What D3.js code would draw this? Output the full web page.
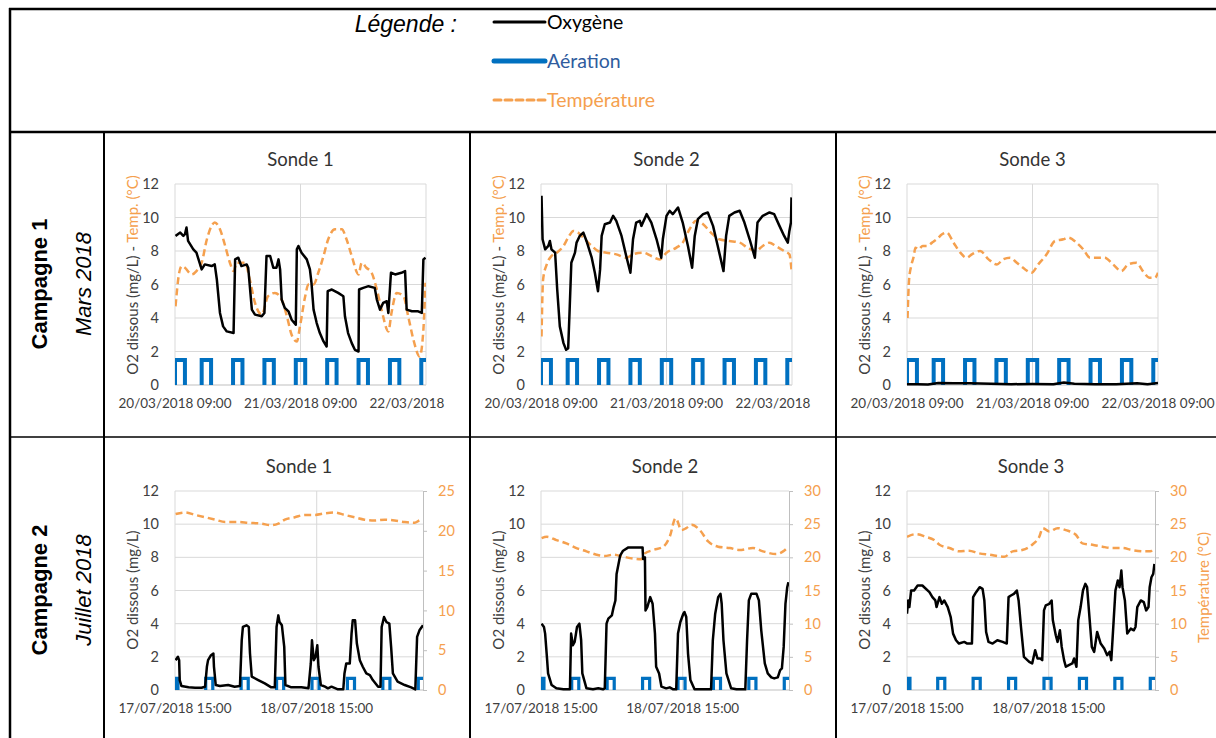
<!DOCTYPE html>
<html>
<head>
<meta charset="utf-8">
<script src="https://cdn.jsdelivr.net/npm/d3@7"></script>
<style>
  body { margin: 0; background: #fff; }
  svg { display: block; }
</style>
</head>
<body>
<div class="visHolder"></div>
<script>
// ---- data (hours since first tick, value) ----
const o2Ticks = [0, 2, 4, 6, 8, 10, 12];
const marchHours = [0, 24, 48];
const marchLabels = ["20/03/2018 09:00", "21/03/2018 09:00", "22/03/2018 09:00"];
const julyHours = [0, 24];
const julyLabels = ["17/07/2018 15:00", "18/07/2018 15:00"];
const marchSpan = 48;
const julySpan = 42;
const tempTicks25 = [0, 5, 10, 15, 20, 25];
const tempTicks30 = [0, 5, 10, 15, 20, 25, 30];

// aeration "on" periods (hours) and plotted level
const marchAeration = [[0, 1.9], [5.1, 6.9], [11.1, 12.9], [17.1, 18.9], [23.1, 24.9], [29.1, 30.9], [35.1, 36.9], [41.1, 42.9], [47.1, 49]];
const marchAerLevel = 1.5;
const julyAeration = [[0, 0.5], [5.2, 6.4], [11.2, 12.4], [17.2, 18.4], [23.2, 24.4], [29.2, 30.4], [35.2, 36.4], [41.2, 43]];
const julyAerLevel = 0.7;

const marchOxy1 = [[0.1,8.9],[1.0,9.1],[1.6,8.9],[1.9,9.0],[2.2,9.4],[2.5,8.6],[3.5,8.1],[4.1,7.9],[4.8,7.2],[5.1,6.9],[5.7,7.2],[7.0,7.1],[7.6,7.2],[8.0,6.3],[8.6,4.3],[9.2,3.5],[9.9,3.2],[11.2,3.1],[11.5,7.5],[12.1,7.6],[12.7,7.1],[13.7,7.2],[14.0,7.0],[14.7,4.5],[15.3,4.2],[16.6,4.1],[17.1,4.3],[17.5,7.7],[18.2,7.7],[18.8,7.0],[19.4,7.0],[19.8,7.5],[20.1,6.9],[20.4,5.1],[21.0,4.6],[21.7,4.4],[22.3,3.9],[23.1,3.6],[23.3,8.1],[23.6,8.3],[24.2,7.9],[25.2,7.5],[25.8,6.9],[26.1,6.1],[26.5,4.5],[27.1,3.7],[27.7,3.1],[28.4,2.6],[29.0,2.3],[29.2,5.6],[30.0,5.7],[31.2,5.5],[32.2,5.3],[32.5,4.1],[33.1,3.1],[33.8,2.5],[34.4,2.1],[35.1,2.0],[35.2,5.7],[36.0,5.8],[37.0,5.9],[38.2,5.8],[38.6,5.1],[39.2,4.5],[39.8,4.9],[40.5,5.0],[40.8,4.3],[41.3,6.7],[42.1,6.6],[43.3,6.7],[44.0,6.8],[44.3,4.5],[45.3,4.4],[46.5,4.4],[47.2,4.3],[47.5,7.5],[47.9,7.6]];
const marchTemp1 = [[0.1,4.7],[0.8,6.7],[1.3,7.1],[1.9,7.0],[3.2,6.6],[4.1,6.8],[5.1,7.3],[6.1,8.7],[7.0,9.5],[7.6,9.7],[8.6,9.3],[9.6,8.3],[10.5,7.3],[11.2,6.8],[11.8,7.3],[13.4,7.3],[14.3,6.3],[15.3,4.9],[16.6,4.2],[17.8,5.3],[19.1,5.5],[20.4,5.1],[21.4,4.1],[22.3,3.0],[23.3,2.6],[23.9,3.5],[24.9,5.3],[25.5,6.0],[26.5,6.0],[27.4,6.7],[28.4,7.7],[29.3,8.7],[30.6,9.3],[31.9,9.3],[32.8,8.7],[33.8,7.7],[35.1,6.6],[35.7,7.3],[36.6,7.0],[37.6,6.7],[38.6,5.7],[39.5,4.5],[40.8,3.2],[41.4,4.3],[42.4,5.5],[43.7,5.3],[44.6,4.1],[45.6,2.7],[46.8,1.7],[47.5,3.3],[47.9,6.1]];

const marchOxy2 = [[0.1,11.3],[0.3,8.7],[0.8,8.1],[1.4,8.3],[1.7,8.6],[2.0,8.1],[2.7,7.9],[3.1,5.7],[3.6,3.5],[4.3,2.5],[4.8,2.1],[5.2,2.2],[5.5,4.7],[5.8,7.3],[6.5,7.9],[6.8,8.5],[7.4,8.9],[8.1,9.1],[8.7,8.6],[9.7,7.6],[10.3,6.7],[10.9,5.6],[11.3,6.9],[11.6,8.9],[12.2,9.6],[13.2,9.7],[13.8,10.1],[14.4,9.8],[15.4,8.9],[16.3,7.7],[17.1,6.7],[17.6,8.7],[18.2,9.7],[18.9,9.8],[19.2,9.5],[20.2,10.2],[21.1,9.7],[22.1,8.7],[23.0,7.6],[23.3,8.7],[24.0,10.1],[24.6,10.4],[25.2,10.2],[26.2,10.6],[27.1,9.7],[28.1,8.3],[28.9,7.0],[29.4,8.9],[30.0,9.9],[31.0,10.2],[31.9,10.3],[32.9,9.5],[33.8,8.3],[34.9,6.8],[35.4,8.9],[36.0,10.1],[37.0,10.3],[38.0,10.4],[38.9,9.7],[39.9,8.7],[40.9,7.6],[41.4,9.7],[42.4,10.1],[43.7,10.3],[44.6,10.2],[45.6,9.5],[46.5,8.9],[47.2,8.5],[47.5,9.2],[47.8,9.7],[47.9,11.2]];
const marchTemp2 = [[0.1,2.9],[0.4,6.3],[1.1,7.2],[2.0,7.7],[3.0,7.9],[4.3,8.3],[5.2,8.8],[6.2,9.2],[7.1,9.1],[8.4,8.7],[9.7,8.3],[10.9,8.0],[12.5,7.9],[14.4,7.8],[16.3,7.6],[17.6,7.8],[19.5,7.9],[21.1,7.7],[22.7,7.5],[24.0,7.9],[25.9,8.2],[27.1,8.5],[28.4,9.3],[29.7,9.8],[31.0,9.6],[32.5,9.1],[34.1,8.7],[36.0,8.6],[38.0,8.5],[39.5,8.2],[41.1,8.0],[42.4,8.3],[43.7,8.5],[44.9,8.3],[46.5,8.0],[47.5,7.8],[47.9,6.9]];

const marchOxy3 = [[0,0.05],[2,0.04],[4,0.03],[6,0.12],[9,0.1],[12,0.1],[16,0.08],[20,0.05],[24,0.06],[28,0.05],[30,0.15],[32,0.07],[36,0.05],[40,0.05],[44,0.1],[46,0.05],[48,0.12]];
const marchTemp3 = [[0.1,4.0],[0.4,6.3],[0.8,7.1],[1.3,7.7],[1.6,8.2],[2.2,8.1],[3.0,8.3],[3.8,8.3],[4.8,8.5],[5.7,8.7],[6.7,9.0],[7.6,9.1],[8.9,8.5],[10.2,7.9],[11.4,7.6],[12.4,7.8],[14.0,8.0],[15.6,7.5],[17.2,7.2],[18.4,7.5],[19.7,7.6],[21.0,7.3],[22.6,6.9],[23.8,6.7],[25.1,7.2],[26.7,7.8],[28.3,8.6],[29.9,8.7],[30.8,8.8],[32.4,8.5],[33.7,8.1],[35.0,7.6],[36.6,7.6],[37.8,7.6],[39.4,7.2],[41.0,6.8],[42.3,7.2],[43.9,7.3],[45.1,6.8],[46.4,6.4],[47.4,6.4],[48.0,6.7]];

const julyOxy1 = [[0.1,1.8],[0.5,2.0],[0.7,1.8],[0.8,0.6],[1.1,0.24],[2.3,0.16],[3.4,0.14],[4.5,0.14],[5.1,0.2],[5.4,1.4],[5.6,1.8],[6.1,2.1],[6.5,2.2],[6.6,1.4],[6.9,0.3],[7.6,0.24],[9.0,0.3],[10.1,0.2],[11.0,0.24],[11.3,3.0],[11.5,3.8],[12.1,3.9],[12.5,3.8],[12.7,2.2],[13.0,0.8],[14.1,0.6],[15.2,0.4],[16.3,0.16],[16.9,0.16],[17.2,3.8],[17.5,4.5],[17.7,4.1],[18.1,3.9],[18.5,2.6],[18.7,0.3],[19.7,0.16],[21.4,0.16],[22.6,0.1],[23.0,1.6],[23.2,3.0],[23.5,1.8],[23.8,2.0],[24.1,2.7],[24.3,1.4],[24.7,0.3],[25.4,0.2],[25.9,0.1],[26.5,0.2],[27.6,0.04],[28.5,0.04],[28.7,1.0],[29.0,1.6],[29.6,1.6],[29.9,3.4],[30.1,4.2],[30.5,4.2],[30.8,2.8],[31.3,1.8],[31.8,1.4],[32.4,1.0],[33.0,0.9],[33.5,0.6],[34.4,0.2],[34.8,0.2],[35.0,3.8],[35.4,4.4],[35.8,4.1],[36.3,4.0],[36.6,2.6],[36.9,1.0],[37.7,0.5],[38.9,0.3],[40.0,0.16],[40.7,0.04],[41.0,3.2],[41.4,3.6],[42.0,3.9]];
const julyTemp1 = [[0.1,22.1],[1.7,22.3],[3.4,22.0],[5.1,21.7],[6.8,21.4],[8.5,21.1],[10.7,21.1],[12.4,21.0],[14.6,20.9],[16.3,20.7],[17.5,20.9],[18.6,21.4],[20.3,21.7],[22.0,22.0],[23.7,22.0],[25.4,22.2],[27.0,22.3],[28.7,22.0],[30.4,21.7],[32.1,21.4],[33.8,21.3],[35.5,21.4],[37.2,21.3],[38.9,21.1],[40.6,21.0],[41.4,21.3],[42.0,21.4]];

const julyOxy2 = [[0.1,4.0],[0.5,3.8],[0.7,3.4],[1.0,2.0],[1.2,1.0],[1.8,0.3],[2.6,0.1],[3.8,0.04],[4.9,0.04],[5.1,3.4],[5.4,2.7],[5.7,2.9],[6.1,3.8],[6.5,4.0],[6.8,3.0],[7.0,1.0],[7.7,0.1],[8.8,0.04],[9.7,0.1],[10.5,0.04],[10.8,0.1],[11.1,4.0],[11.4,4.3],[12.0,4.5],[12.3,5.0],[12.6,5.4],[12.8,7.0],[13.4,8.1],[13.9,8.4],[14.8,8.6],[16.2,8.6],[17.2,8.6],[17.3,7.9],[17.6,8.0],[17.7,4.8],[18.0,5.0],[18.5,5.6],[18.9,5.2],[19.3,3.4],[19.5,1.4],[20.0,1.0],[20.4,0.2],[21.2,0.1],[21.8,0.16],[22.4,0.04],[22.9,0.04],[23.2,3.4],[23.6,4.1],[24.1,4.6],[24.3,4.7],[24.6,4.4],[24.9,2.2],[25.3,0.6],[26.0,0.04],[27.4,0.04],[28.8,0.04],[29.1,3.0],[29.5,4.6],[30.0,5.6],[30.4,5.8],[30.6,5.2],[30.9,3.0],[31.4,1.0],[32.2,0.1],[33.1,0.04],[34.6,0.04],[34.9,3.0],[35.2,5.4],[35.6,5.8],[36.5,5.8],[36.9,5.4],[37.3,3.6],[37.9,1.6],[38.4,1.0],[39.0,0.76],[39.5,0.7],[40.1,0.76],[40.5,1.2],[40.8,1.3],[41.1,2.6],[41.4,5.2],[41.7,6.2],[41.9,6.5]];
const julyTemp2 = [[0.1,22.9],[1.0,23.1],[2.6,22.6],[4.3,22.1],[6.0,21.4],[7.7,20.9],[9.4,20.4],[10.8,20.2],[12.2,20.4],[13.9,20.1],[15.6,19.8],[17.0,19.7],[17.6,20.6],[19.0,21.1],[20.7,21.6],[21.8,23.1],[22.8,25.9],[23.8,24.1],[24.6,24.4],[25.5,24.9],[26.9,24.1],[28.3,22.4],[30.0,21.6],[32.0,21.4],[33.6,21.1],[35.9,21.4],[37.6,20.9],[39.8,20.5],[41.0,20.9],[41.9,21.6]];

const julyOxy3 = [[0.0,4.6],[0.2,5.4],[0.4,5.0],[0.7,6.0],[1.2,6.0],[1.8,6.3],[2.6,6.3],[3.8,5.9],[4.3,5.6],[4.8,5.4],[5.0,5.0],[5.5,5.6],[5.9,5.2],[6.3,5.4],[6.9,5.0],[7.4,4.4],[7.8,3.4],[8.3,3.0],[8.8,2.8],[9.7,2.9],[10.2,2.8],[11.0,2.8],[11.2,5.6],[11.7,5.9],[12.3,6.2],[12.8,6.1],[13.1,5.4],[13.4,3.5],[13.8,2.9],[14.5,2.8],[15.3,3.0],[16.2,2.9],[16.9,2.8],[17.2,5.6],[17.6,5.7],[18.1,5.8],[18.6,6.0],[18.9,5.4],[19.3,3.8],[19.8,2.0],[20.7,1.7],[21.2,1.6],[21.7,2.4],[22.1,1.9],[22.6,1.9],[22.9,1.8],[23.2,4.8],[23.5,5.1],[24.1,5.2],[24.5,5.4],[24.7,4.2],[25.2,3.3],[25.5,2.9],[25.9,3.6],[26.2,2.6],[26.6,1.8],[26.9,1.4],[27.4,1.5],[28.0,1.6],[28.3,1.9],[28.7,1.4],[29.0,4.2],[29.4,5.0],[29.8,6.0],[30.2,6.4],[30.5,6.2],[30.9,4.4],[31.3,2.6],[31.7,2.3],[32.2,3.5],[32.8,2.8],[33.4,2.5],[33.9,2.1],[34.3,2.3],[34.6,1.8],[35.0,4.2],[35.3,6.0],[35.7,6.6],[36.0,6.2],[36.3,7.2],[36.5,6.2],[36.9,5.4],[37.3,3.4],[37.9,3.7],[38.4,3.6],[38.7,3.8],[39.0,5.0],[39.6,5.4],[40.1,5.3],[40.5,4.8],[40.9,5.0],[41.1,6.2],[41.4,6.8],[41.7,7.0],[41.9,7.6]];
const julyTemp3 = [[0.0,23.1],[1.5,23.5],[3.2,23.1],[4.6,22.6],[5.5,21.9],[7.2,21.4],[8.8,20.9],[10.5,21.0],[12.2,20.6],[13.9,20.4],[16.5,20.1],[17.9,20.9],[19.5,21.1],[21.2,21.9],[22.4,23.1],[23.0,24.4],[24.1,23.9],[25.5,24.4],[26.9,24.1],[28.6,23.4],[29.7,22.1],[31.4,21.9],[33.1,21.6],[34.8,21.4],[36.5,21.4],[38.1,21.1],[40.4,20.9],[41.2,20.9],[41.9,21.5]];

// ---- layout ----
const W = 1216, H = 738;
const colX = [104, 470, 836];
const rowY = [132, 437];
const chartFont = "Lato, 'Open Sans', sans-serif";
const tableFont = "'Liberation Sans', Arial, sans-serif";
const colors = { oxy: "#000", aer: "#0070C0", temp: "#F5A04E", grid: "#d9d9d9", axis: "#bfbfbf", text: "#404040" };

const svg = d3.select('.visHolder').append('svg')
  .attr('width', W).attr('height', H);

// table borders
function drawTable() {
  const t = svg.append('g').attr('stroke', '#000').attr('fill', 'none');
  t.append('line').attr('x1', 9).attr('x2', W).attr('y1', 9).attr('y2', 9).attr('stroke-width', 2.5);
  t.append('line').attr('x1', 10).attr('x2', 10).attr('y1', 8).attr('y2', H).attr('stroke-width', 2.5);
  t.append('line').attr('x1', 9).attr('x2', W).attr('y1', rowY[0]).attr('y2', rowY[0]).attr('stroke-width', 2.5);
  t.append('line').attr('x1', 9).attr('x2', W).attr('y1', rowY[1]).attr('y2', rowY[1]).attr('stroke-width', 1.5);
  colX.forEach(x => {
    t.append('line').attr('x1', x).attr('x2', x).attr('y1', rowY[0]).attr('y2', H).attr('stroke-width', 2);
  });
}

function drawLegend() {
  const g = svg.append('g');
  g.append('text').attr('x', 457).attr('y', 32).attr('text-anchor', 'end')
    .attr('font-family', tableFont).attr('font-style', 'italic')
    .attr('font-size', 23).text('Légende :');
  const items = [
    { label: 'Oxygène', y: 22, color: colors.oxy, text: '#000', w: 3, dash: null },
    { label: 'Aération', y: 61, color: colors.aer, text: '#2F5C9E', w: 5, dash: null },
    { label: 'Température', y: 100, color: colors.temp, text: colors.temp, w: 3, dash: '7,4' }
  ];
  items.forEach(d => {
    g.append('line').attr('x1', 494).attr('x2', 545).attr('y1', d.y).attr('y2', d.y)
      .attr('stroke', d.color).attr('stroke-width', d.w).attr('stroke-linecap', 'round')
      .attr('stroke-dasharray', d.dash);
    g.append('text').attr('x', 547).attr('y', d.y).attr('dy', '0.35em')
      .attr('font-family', chartFont).attr('font-size', 19.5).attr('fill', d.text).text(d.label);
  });
}

function drawRowLabels() {
  const rows = [
    { main: 'Campagne 1', sub: 'Mars 2018', cy: 284 },
    { main: 'Campagne 2', sub: 'Juillet 2018', cy: 590 }
  ];
  rows.forEach(r => {
    svg.append('text').attr('transform', `translate(39,${r.cy}) rotate(-90)`)
      .attr('text-anchor', 'middle').attr('dy', '0.35em')
      .attr('font-family', tableFont).attr('font-weight', 'bold')
      .attr('font-size', 22).text(r.main);
    svg.append('text').attr('transform', `translate(83,${r.cy}) rotate(-90)`)
      .attr('text-anchor', 'middle').attr('dy', '0.35em')
      .attr('font-family', tableFont).attr('font-style', 'italic')
      .attr('font-size', 22).text(r.sub);
  });
}

const panels = [
  { col: 0, row: 0, title: 'Sonde 1', oxy: marchOxy1, temp: marchTemp1, shortLast: true },
  { col: 1, row: 0, title: 'Sonde 2', oxy: marchOxy2, temp: marchTemp2, shortLast: true },
  { col: 2, row: 0, title: 'Sonde 3', oxy: marchOxy3, temp: marchTemp3, shortLast: false },
  { col: 0, row: 1, title: 'Sonde 1', oxy: julyOxy1, temp: julyTemp1, tempTicks: tempTicks25 },
  { col: 1, row: 1, title: 'Sonde 2', oxy: julyOxy2, temp: julyTemp2, tempTicks: tempTicks30 },
  { col: 2, row: 1, title: 'Sonde 3', oxy: julyOxy3, temp: julyTemp3, tempTicks: tempTicks30, tempTitle: true }
];

const rowCfg = [
  { top: 184, h: 201, w: 251, span: marchSpan, hours: marchHours, labels: marchLabels, aer: marchAeration, aerLevel: marchAerLevel, aerW: 4, yTitleCy: 275 },
  { top: 491, h: 199, w: 248, span: julySpan, hours: julyHours, labels: julyLabels, aer: julyAeration, aerLevel: julyAerLevel, aerW: 3.2, yTitleCy: 590 }
];

function drawPanel(p, i) {
  const rc = rowCfg[p.row];
  const left = colX[p.col] + 71;
  const g = svg.append('g').attr('transform', `translate(${left},${rc.top})`);
  const x = d3.scaleLinear().domain([0, rc.span]).range([0, rc.w]);
  const y = d3.scaleLinear().domain([0, 12]).range([rc.h, 0]);
  const yT = p.tempTicks ? d3.scaleLinear().domain([0, d3.max(p.tempTicks)]).range([rc.h, 0]) : y;

  const clipId = 'clip' + i;
  g.append('clipPath').attr('id', clipId).append('rect')
    .attr('x', 0).attr('y', -4).attr('width', rc.w).attr('height', rc.h + 8);

  // gridlines
  g.selectAll('.hgrid').data(o2Ticks).join('line')
    .attr('x1', 0).attr('x2', rc.w).attr('y1', d => y(d)).attr('y2', d => y(d))
    .attr('stroke', d => d === 0 ? colors.axis : colors.grid).attr('stroke-width', 1);
  const vLines = p.tempTicks ? [0, 24] : rc.hours;
  g.selectAll('.vgrid').data(vLines).join('line')
    .attr('x1', d => x(d)).attr('x2', d => x(d)).attr('y1', 0).attr('y2', rc.h)
    .attr('stroke', colors.grid).attr('stroke-width', 1);

  // y axis labels
  g.append('g').call(d3.axisLeft(y).tickValues(o2Ticks).tickSize(0).tickPadding(16))
    .call(a => a.select('.domain').remove())
    .selectAll('text').attr('font-family', chartFont).attr('font-size', 14.5).attr('fill', colors.text);

  // secondary temperature axis
  if (p.tempTicks) {
    const ra = g.append('g').attr('transform', `translate(${rc.w},0)`)
      .call(d3.axisRight(yT).tickValues(p.tempTicks).tickSize(4).tickPadding(11));
    ra.select('.domain').attr('stroke', colors.axis);
    ra.selectAll('line').attr('stroke', colors.axis);
    ra.selectAll('text').attr('font-family', chartFont).attr('font-size', 14.5).attr('fill', colors.temp);
    if (p.tempTitle) {
      g.append('text').attr('transform', `translate(${rc.w + 49},${rc.h / 2 - 3}) rotate(-90)`)
        .attr('text-anchor', 'middle').attr('dy', '0.35em')
        .attr('font-family', chartFont).attr('font-size', 15).attr('fill', colors.temp)
        .text('Température (°C)');
    }
  }

  // x tick labels
  const xl = g.append('g').attr('font-family', chartFont).attr('font-size', 13.5).attr('fill', colors.text);
  rc.hours.forEach((h, k) => {
    const t = xl.append('text').attr('x', x(h)).attr('y', rc.h + 23).attr('text-anchor', 'middle').text(rc.labels[k]);
    if (p.shortLast && k === rc.hours.length - 1) {
      const full = t.node().getComputedTextLength();
      t.attr('text-anchor', 'start').attr('x', x(h) - full / 2).text(rc.labels[k].split(' ')[0]);
    }
  });

  // y axis title
  const yt = g.append('text').attr('transform', `translate(-42,${rc.yTitleCy - rc.top}) rotate(-90)`)
    .attr('text-anchor', 'middle').attr('dy', '0.35em')
    .attr('font-family', chartFont).attr('font-size', 15).attr('fill', colors.text);
  yt.append('tspan').text(p.tempTicks ? 'O2 dissous (mg/L)' : 'O2 dissous (mg/L) - ');
  if (!p.tempTicks) yt.append('tspan').attr('fill', colors.temp).text('Temp. (°C)');

  // title
  g.append('text').attr('x', rc.w / 2).attr('y', -18).attr('text-anchor', 'middle')
    .attr('font-family', chartFont).attr('font-size', 18.5).attr('fill', '#333').text(p.title);

  const plot = g.append('g').attr('clip-path', `url(#${clipId})`);

  // aeration pulses
  plot.selectAll('.aer').data(rc.aer).join('path')
    .attr('d', d => `M${x(d[0])},${y(0)}V${y(rc.aerLevel)}H${x(d[1])}V${y(0)}`)
    .attr('fill', 'none').attr('stroke', colors.aer).attr('stroke-width', rc.aerW);

  // temperature
  const lineT = d3.line().x(d => x(d[0])).y(d => yT(d[1])).curve(d3.curveMonotoneX);
  plot.append('path').datum(p.temp).attr('d', lineT)
    .attr('fill', 'none').attr('stroke', colors.temp).attr('stroke-width', 2.5).attr('stroke-dasharray', '7,4');

  // oxygen
  const lineO = d3.line().x(d => x(d[0])).y(d => y(d[1]));
  plot.append('path').datum(p.oxy).attr('d', lineO)
    .attr('fill', 'none').attr('stroke', colors.oxy).attr('stroke-width', 2.5).attr('stroke-linejoin', 'round');
}

drawTable();
drawLegend();
drawRowLabels();
panels.forEach(drawPanel);
</script>
</body>
</html>
